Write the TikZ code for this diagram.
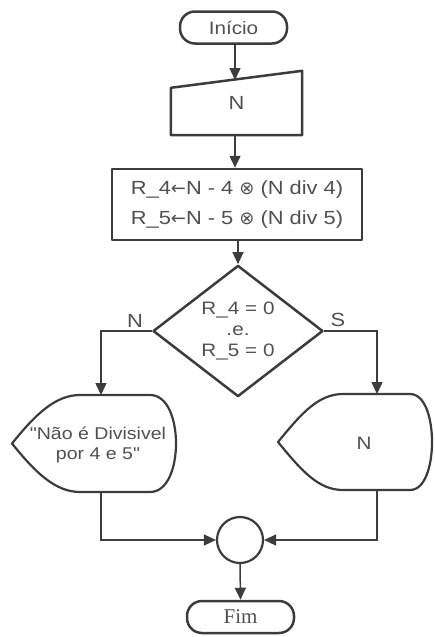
\documentclass[tikz,border=0pt]{standalone}
\usepackage{fontspec}
\setmainfont[FakeStretch=1.15,Ligatures=TeXOff]{Liberation Sans}
\newfontfamily\serifont{Liberation Serif}
\newfontfamily\symfont{DejaVu Sans}
\usetikzlibrary{arrows.meta,shapes.geometric,calc}
\definecolor{lc}{HTML}{3C3C3C}
\definecolor{tc}{HTML}{505050}
\tikzset{
  conn/.style={draw=lc, line width=1.5pt},
  arr/.style={conn, -{Triangle[length=12pt,width=11pt]}},
  outline/.style={draw=lc, line width=2.5pt, line join=round},
  txt/.style={text=tc, font=\fontsize{17}{20}\selectfont},
  termbox/.style={outline, rectangle, rounded corners=15pt, minimum width=107pt, minimum height=32pt, inner sep=0pt},
  ghost/.style={rectangle, inner sep=0pt, align=center, txt},
}
\newcommand{\larr}{{\symfont\fontsize{18}{30}\selectfont ←}}
\newcommand{\otim}{{\symfont\fontsize{18}{30}\selectfont ⊗}}
\begin{document}
\begin{tikzpicture}[x=1pt,y=1pt]
\useasboundingbox (0,0) rectangle (434,-637);
% start
\node[termbox, text=tc, font=\fontsize{18}{20}\selectfont] (ini) at (233.5,-27.5) {Início};
% manual input
\node[ghost, minimum width=131pt, minimum height=64pt, font=\fontsize{19}{20}\selectfont] (inp) at (236.5,-103) {N};
\draw[outline] (inp.south west) -- (inp.south east) -- (inp.north east) -- ($(inp.north west)+(0,-17)$) -- cycle;
\coordinate (inptop) at (235,-80);
% process
\node[outline, rectangle, minimum width=250pt, minimum height=71pt, inner sep=0pt, align=center, text=tc, font=\fontsize{19}{30}\selectfont] (proc) at (237,-204.5)
  {R\_4\larr N - 4 \otim\ (N div 4)\\R\_5\larr N - 5 \otim\ (N div 5)};
% decision
\node[outline, diamond, inner sep=0pt, minimum width=170pt, minimum height=128pt, align=center, text=tc, font=\fontsize{18}{21}\selectfont] (dec) at (238,-331)
  {R\_4 = 0\\.e.\\R\_5 = 0};
\node[txt, font=\fontsize{19}{20}\selectfont] (lblN) at (135,-321) {N};
\node[txt, font=\fontsize{19}{20}\selectfont] (lblS) at (338,-320) {S};
% left display
\node[ghost, minimum width=163pt, minimum height=97pt, font=\fontsize{17}{20}\selectfont] (dl) at (98,-445) {"Não é Divisivel\\por 4 e 5"};
\draw[outline, line width=2.2pt]
  (12,-443.5) .. controls (35,-415) and (55,-395) .. (80,-395) -- (150,-395)
  .. controls (168,-395) and (176,-420) .. (176,-443.5)
  .. controls (176,-467) and (168,-492) .. (150,-492) -- (80,-492)
  .. controls (55,-492) and (35,-472) .. (12,-443.5) -- cycle;
% right display
\node[ghost, minimum width=154pt, minimum height=96pt, font=\fontsize{18}{20}\selectfont] (dr) at (364,-443) {N};
\draw[outline, line width=2.2pt]
  (278,-442) .. controls (301,-414) and (318,-394) .. (343,-394) -- (410,-394)
  .. controls (425,-394) and (432,-418) .. (432,-442)
  .. controls (432,-466) and (425,-490) .. (410,-490) -- (343,-490)
  .. controls (318,-490) and (301,-470) .. (278,-442) -- cycle;
% connector circle
\node[outline, circle, minimum size=46pt, inner sep=0pt, line width=2.2pt] (con) at (240,-540) {};
% end
\node[termbox, text=tc, font=\serifont\fontsize{21}{22}\selectfont] (fim) at (240.5,-617) {Fim};
% connectors
\coordinate (dlin) at (101,-395);
\coordinate (dlout) at (101,-492);
\coordinate (drin) at (377,-394);
\coordinate (drout) at (377,-490);
\draw[arr] (ini.south -| inptop) -- (inptop);
\draw[arr] (inp.south -| inptop) -- (proc.north -| inptop);
\draw[arr] (proc.south -| dec.north) -- (dec.north);
\draw[arr] (dec.west) -| (dlin);
\draw[arr] (dec.east) -| (drin);
\draw[arr] (dlout) |- (con.west);
\draw[arr] (drout) |- (con.east);
\draw[arr] (con.south) -- (fim.north);
\end{tikzpicture}
\end{document}
